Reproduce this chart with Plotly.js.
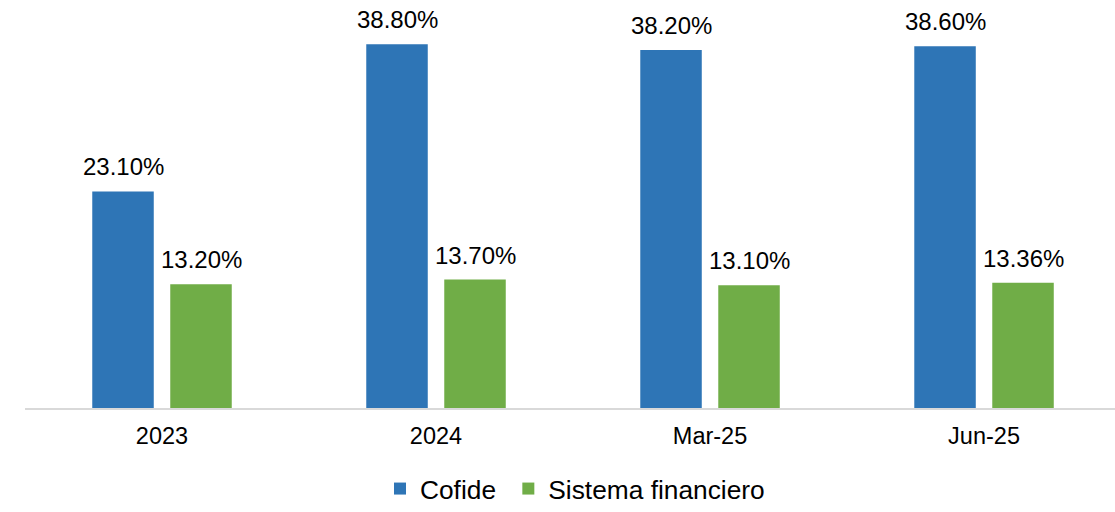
<!DOCTYPE html>
<html>
<head>
<meta charset="utf-8">
<script src="https://cdn.plot.ly/plotly-3.0.1.min.js"></script>
<style>html,body{margin:0;padding:0;background:#fff;}#chart{width:1115px;height:512px;}</style>
</head>
<body>
<div id="chart"></div>
<script>
const categories = ["2023", "2024", "Mar-25", "Jun-25"];
const cofide = [23.10, 38.80, 38.20, 38.60];
const sistema = [13.20, 13.70, 13.10, 13.36];
const seriesNames = ["Cofide", "Sistema financiero"];
const colors = ["#2E75B6", "#70AD47"];

const fmt = v => v.toFixed(2) + "%";
const traces = [cofide, sistema].map((vals, i) => ({
  type: "bar",
  name: i === 0 ? seriesNames[i] + "\u00a0" : seriesNames[i],
  x: categories,
  y: vals,
  marker: {color: colors[i]},
  hoverinfo: "skip"
}));

const annotations = [];
[cofide, sistema].forEach((vals, i) => {
  vals.forEach((v, j) => {
    annotations.push({
      x: j, y: v, xref: "x", yref: "y",
      text: fmt(v), showarrow: false,
      xanchor: "center", yanchor: "bottom",
      xshift: i === 0 ? -39 : 39, yshift: 9,
      font: {family: "Liberation Sans, Arial, sans-serif", size: 24, color: "#000"}
    });
  });
});

const layout = {
  width: 1115, height: 512,
  margin: {l: 25, r: 0, t: 33, b: 104},
  paper_bgcolor: "#fff", plot_bgcolor: "#fff",
  barmode: "group",
  bargap: 0.4307,
  bargroupgap: 0.2115,
  font: {family: "Liberation Sans, Arial, sans-serif", color: "#000"},
  xaxis: {
    type: "category",
    range: [-0.5, 3.478],
    showline: true, linecolor: "#d9d9d9", linewidth: 2,
    showgrid: false, zeroline: false, ticks: "",
    tickfont: {size: 23.5, color: "#000"},
    ticklabelstandoff: 6,
    fixedrange: true
  },
  yaxis: {
    range: [0, 40],
    visible: false, showgrid: false, zeroline: false,
    fixedrange: true
  },
  showlegend: true,
  legend: {
    orientation: "h", x: 0.5157, xanchor: "center", xref: "container",
    y: 0.045, yanchor: "middle", yref: "container",
    font: {size: 26.3, color: "#000"},
    itemwidth: 30
  },
  annotations: annotations
};

Plotly.newPlot("chart", traces, layout, {displayModeBar: false, staticPlot: true});
</script>
</body>
</html>
